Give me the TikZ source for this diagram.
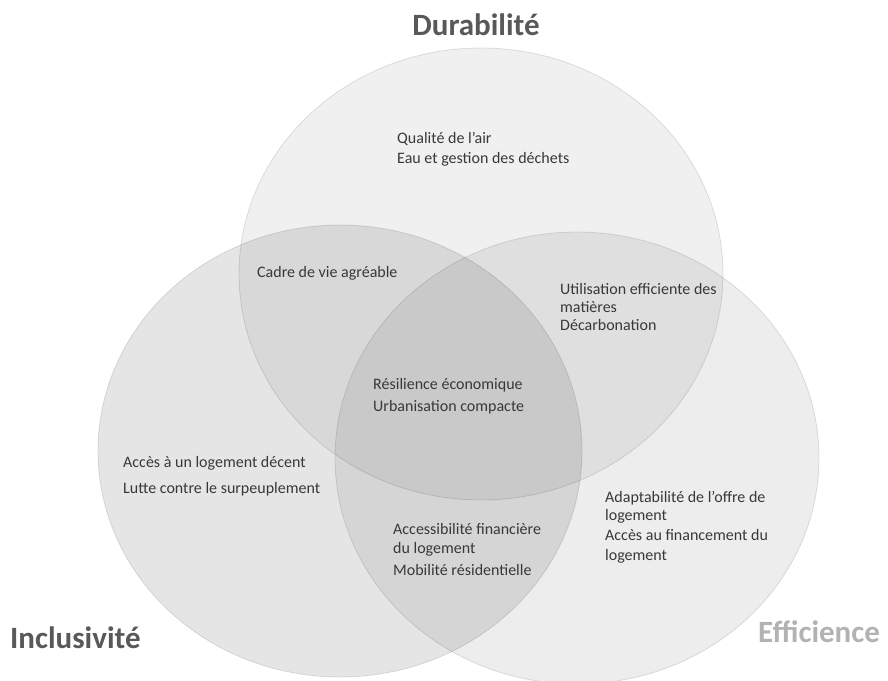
\documentclass[tikz,border=0pt]{standalone}
\usepackage{fontspec}
\setmainfont{Carlito}
\usepackage{tikz}
\usetikzlibrary{positioning}

\begin{document}
\begin{tikzpicture}[x=1pt,y=-1pt]

% Stili
\tikzset{bulle/.style={fill=black, draw=black, draw opacity=0.06, line width=0.8pt},
  texte/.style={anchor=base west, inner sep=0pt, align=left, text=black!78,
    font=\fontsize{16}{19}\selectfont},
  titre/.style={inner sep=0pt, font=\bfseries\fontsize{31}{31}\selectfont}}

\useasboundingbox (0,0) rectangle (888,680);

% --- Les trois cercles ---
\fill[bulle, fill opacity=0.06] (481,274) ellipse (242 and 226);
\fill[bulle, fill opacity=0.10] (340,451) ellipse (242 and 226);
\fill[bulle, fill opacity=0.07] (577,458) ellipse (242 and 226);
\draw[bulle, fill=none] (481,274) ellipse (242 and 226);
\draw[bulle, fill=none] (340,451) ellipse (242 and 226);
\draw[bulle, fill=none] (577,458) ellipse (242 and 226);

% Titres
\node[titre, anchor=base, text=black!65] (durab) at (476,35) {Durabilité};
\node[titre, anchor=base west, text=black!65] (inclus) at (10,648) {Inclusivité};
\node[titre, anchor=base west, text=black!30] (effic) at (758,642) {Efficience};

% Textes des zones (base = derniere ligne)
\node[texte] (air) at (397,163) {Qualité de l’air\\[1pt]Eau et gestion des déchets};
\node[texte] (cadre) at (257,277) {Cadre de vie agréable};
\node[texte] (matieres) at (560,330) {Utilisation efficiente des\\[-1pt]matières\\[-1pt]Décarbonation};
\node[texte] (resil) at (373,411) {Résilience économique\\[3pt]Urbanisation compacte};
\node[texte] (decent) at (123,493) {Accès à un logement décent\\[7pt]Lutte contre le surpeuplement};
\node[texte] (financ) at (393,575) {Accessibilité financière\\du logement\\[3pt]Mobilité résidentielle};
\node[texte] (offre) at (605,560) {Adaptabilité de l’offre de\\[-1pt]logement\\[1pt]Accès au financement du\\[1pt]logement};

\end{tikzpicture}
\end{document}
